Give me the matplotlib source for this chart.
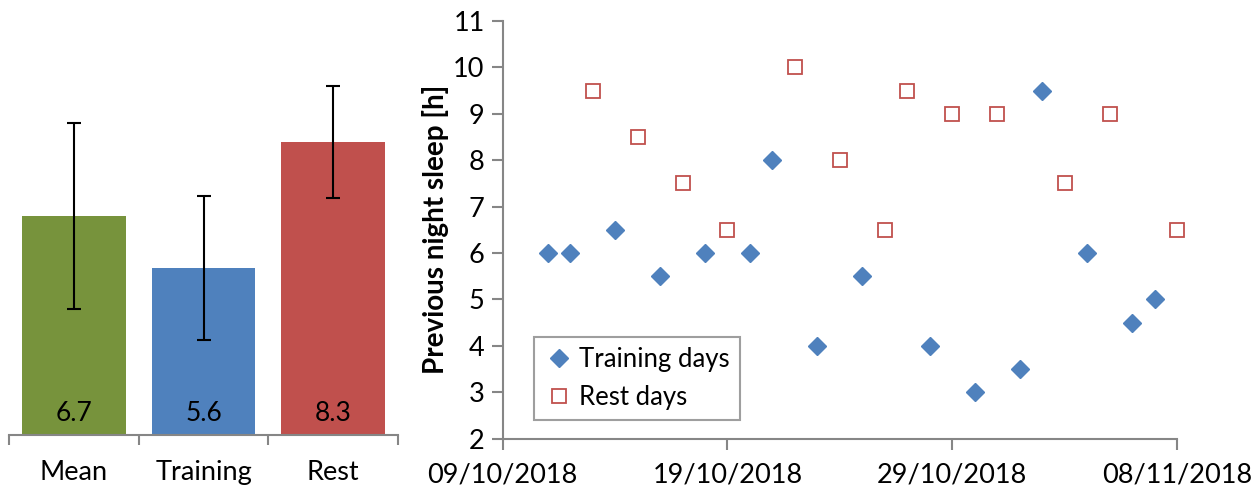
import matplotlib
matplotlib.use("Agg")
import matplotlib.pyplot as plt
import matplotlib.dates as mdates
import numpy as np
import datetime as dt

plt.rcParams['font.family'] = ['Lato', 'DejaVu Sans']

# ---- data ----
bar_categories = ["Mean", "Training", "Rest"]
bar_values = [6.7, 5.6, 8.3]
bar_errors = [2.0, 1.55, 1.2]
bar_colors = ["#77933C", "#4F81BD", "#C0504D"]

training_dates = ["2018-10-11", "2018-10-12", "2018-10-14", "2018-10-16", "2018-10-18",
                  "2018-10-20", "2018-10-21", "2018-10-23", "2018-10-25", "2018-10-28",
                  "2018-10-30", "2018-11-01", "2018-11-02", "2018-11-04", "2018-11-06",
                  "2018-11-07"]
training_sleep = [6, 6, 6.5, 5.5, 6, 6, 8, 4, 5.5, 4, 3, 3.5, 9.5, 6, 4.5, 5]

rest_dates = ["2018-10-13", "2018-10-15", "2018-10-17", "2018-10-19", "2018-10-22",
              "2018-10-24", "2018-10-26", "2018-10-27", "2018-10-29", "2018-10-31",
              "2018-11-03", "2018-11-05", "2018-11-08"]
rest_sleep = [9.5, 8.5, 7.5, 6.5, 10, 8, 6.5, 9.5, 9, 9, 7.5, 9, 6.5]

x_ticks = ["2018-10-09", "2018-10-19", "2018-10-29", "2018-11-08"]

gray = "#868686"
W, H = 1260, 491
fig = plt.figure(figsize=(W / 100, H / 100), dpi=100)

def to_dt(s):
    return dt.datetime.strptime(s, "%Y-%m-%d")

# ---- left bar chart ----
axL = fig.add_axes([9 / W, (H - 435) / H, 389 / W, 418.5 / H])
xpos = np.arange(len(bar_categories))
base = 2
axL.bar(xpos, [v - base for v in bar_values], bottom=base, width=0.80, color=bar_colors, zorder=2)
axL.errorbar(xpos, bar_values, yerr=bar_errors, fmt='none', ecolor='black',
             elinewidth=1.5, capsize=5, capthick=1.5, zorder=3)
for x, v in zip(xpos, bar_values):
    axL.text(x, 2.47, f"{v:.1f}", ha='center', va='center', fontsize=19, color='black', zorder=4)
axL.set_xlim(-0.5, 2.5)
axL.set_ylim(2, 11)
for s in ['top', 'right', 'left']:
    axL.spines[s].set_visible(False)
axL.spines['bottom'].set_color(gray)
axL.spines['bottom'].set_linewidth(1.5)
axL.set_yticks([])
axL.set_xticks(xpos)
axL.set_xticklabels(bar_categories, fontsize=19.5)
axL.tick_params(axis='x', which='major', length=0, pad=18)
axL.set_xticks([-0.5, 0.5, 1.5, 2.5], minor=True)
axL.tick_params(axis='x', which='minor', length=7, width=1.5, color=gray, direction='out')

# ---- right scatter chart ----
axR = fig.add_axes([502.7 / W, (H - 438.7) / H, (1177 - 502.7) / W, (438.7 - 21) / H])
td = [to_dt(d) for d in training_dates]
rd = [to_dt(d) for d in rest_dates]
axR.plot(td, training_sleep, linestyle='none', marker='D', markersize=8.7,
         color="#4F81BD", label="Training days", zorder=3, clip_on=False)
axR.plot(rd, rest_sleep, linestyle='none', marker='s', markersize=10.5,
         markerfacecolor='white', markeredgecolor="#C0504D", markeredgewidth=1.3,
         label="Rest days", zorder=3, clip_on=False)
axR.set_xlim(to_dt(x_ticks[0]), to_dt(x_ticks[-1]))
axR.set_ylim(2, 11)
axR.set_yticks(range(2, 12))
axR.set_xticks([to_dt(d) for d in x_ticks])
axR.xaxis.set_major_formatter(mdates.DateFormatter("%d/%m/%Y"))
for s in ['top', 'right']:
    axR.spines[s].set_visible(False)
for s in ['left', 'bottom']:
    axR.spines[s].set_color(gray)
    axR.spines[s].set_linewidth(1.5)
axR.spines['bottom'].set_zorder(0)
axR.tick_params(axis='both', length=8, width=1.5, color=gray, direction='out', labelsize=19.5)
axR.tick_params(axis='x', pad=9)
axR.tick_params(axis='y', pad=5)
axR.set_ylabel("Previous night sleep [h]", fontsize=20, fontweight='bold', labelpad=3)
leg = axR.legend(loc='lower left', bbox_to_anchor=(0.046, 0.045), borderaxespad=0,
                 fontsize=18.5, frameon=True, fancybox=False, borderpad=0.4,
                 handletextpad=0.15, handlelength=1.2, labelspacing=0.5)
leg.get_frame().set_edgecolor(gray)
leg.get_frame().set_linewidth(1.5)

fig.savefig("out.png", dpi=100)
